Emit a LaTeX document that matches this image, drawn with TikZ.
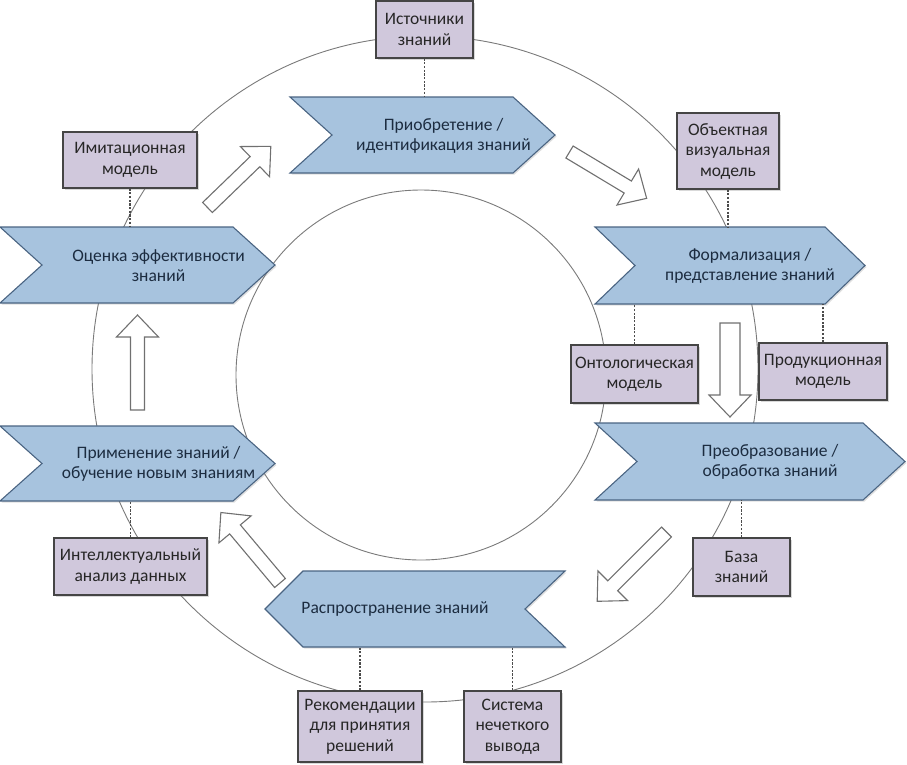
\documentclass[tikz,border=0pt]{standalone}
\usepackage{fontspec}
\setmainfont{Carlito}
\usetikzlibrary{shadows}
\definecolor{chevfill}{HTML}{A7C3DE}
\definecolor{chevdraw}{HTML}{4A6482}
\definecolor{chevtext}{HTML}{1C2C40}
\definecolor{boxfill}{HTML}{D0C8DC}
\definecolor{boxdraw}{HTML}{454545}
\definecolor{boxtext}{HTML}{262626}
\definecolor{ringcol}{HTML}{7A7A7A}
\definecolor{arrcol}{HTML}{707070}
\tikzset{
  chev/.style={fill=chevfill, draw=chevdraw, line width=1.1pt, line join=miter,
    drop shadow={shadow xshift=1.5pt, shadow yshift=-1.5pt, opacity=0.25, fill=gray}},
  chevlabel/.style={align=center, text=chevtext, font=\fontsize{17.5}{20}\selectfont, inner sep=0pt},
  infobox/.style={rectangle, fill=boxfill, draw=boxdraw, line width=1.1pt, align=center,
    text=boxtext, font=\fontsize{17.5}{20.5}\selectfont, inner sep=0pt,
    drop shadow={shadow xshift=2pt, shadow yshift=-2pt, opacity=0.3, fill=gray}},
  ring/.style={draw=ringcol, line width=0.9pt},
  arrowbox/.style={fill=white, draw=arrcol, line width=1.1pt, line join=miter},
  dotline/.style={draw=black!70, line width=1.9pt, dash pattern=on 2.2pt off 1.5pt}
}
% block arrow: tail x, tail y, angle, length, half shaft width
\newcommand{\blkarrow}[5]{%
  \draw[arrowbox, shift={(#1,#2)}, rotate=#3]
    (0,-#5) -- ({#4-22},-#5) -- ({#4-22},-21) -- (#4,0) -- ({#4-22},21) -- ({#4-22},#5) -- (0,#5) -- cycle;}
% right-pointing chevron: left, top, right, bottom, depth
\newcommand{\chevright}[5]{%
  \draw[chev] (#1,#2) -- ({#3-#5},#2) -- (#3,{(#2+#4)/2}) -- ({#3-#5},#4) -- (#1,#4) -- ({#1+#5},{(#2+#4)/2}) -- cycle;}
\begin{document}
\begin{tikzpicture}[x=1pt, y=-1pt]
\useasboundingbox (0,0) rectangle (907,764);
% rings
\draw[ring] (425,369) circle[radius=333];
\draw[ring] (421,375) circle[radius=185];
% arrows
\blkarrow{207.5}{207.5}{44}{88}{7}
\blkarrow{569.5}{152}{-31}{90}{7}
\blkarrow{730}{323}{-90}{94}{10}
\blkarrow{666.5}{532}{-135}{98}{7}
\blkarrow{280}{583}{130}{92}{7}
\blkarrow{137.5}{410}{90}{95}{7}
% chevrons
\chevright{290}{97}{555}{173}{42}
\chevright{595}{227}{865}{304}{40}
\chevright{595}{423}{905}{500}{42}
\chevright{0}{426}{275}{501}{42}
\chevright{0}{227}{275}{303}{42}
\draw[chev] (303,571) -- (565,571) -- (525,609) -- (565,647) -- (303,647) -- (265,609) -- cycle;
% chevron labels
\node[chevlabel] (acq) at (443.5,136) {Приобретение /\\идентификация знаний};
\node[chevlabel] (form) at (750,266) {Формализация /\\представление знаний};
\node[chevlabel] (proc) at (770,462) {Преобразование /\\обработка знаний};
\node[chevlabel] (dist) at (395,609) {Распространение знаний};
\node[chevlabel] (appl) at (158.5,464) {Применение знаний /\\обучение новым знаниям};
\node[chevlabel] (eval) at (158.5,266) {Оценка эффективности\\знаний};
% boxes
\node[infobox, minimum width=97, minimum height=57] (src) at (424.5,29.5) {Источники\\знаний};
\node[infobox, minimum width=102, minimum height=76] (obj) at (728,151) {Объектная\\визуальная\\модель};
\node[infobox, minimum width=134, minimum height=56] (imit) at (130,160) {Имитационная\\модель};
\node[infobox, minimum width=127, minimum height=58] (onto) at (634.5,374) {Онтологическая\\модель};
\node[infobox, minimum width=128, minimum height=57] (prod) at (823,371.5) {Продукционная\\модель};
\node[infobox, minimum width=97, minimum height=58] (baza) at (741.5,567) {База\\знаний};
\node[infobox, minimum width=124, minimum height=71] (rek) at (360,726.5) {Рекомендации\\для принятия\\решений};
\node[infobox, minimum width=97, minimum height=71] (sys) at (512.5,726.5) {Система\\нечеткого\\вывода};
\node[infobox, minimum width=153, minimum height=57] (intel) at (130.5,566.5) {Интеллектуальный\\анализ данных};
% connection points on chevrons
\coordinate (pSrc) at (424.5,97);
\coordinate (pObj) at (728,227);
\coordinate (pImit) at (130,227);
\coordinate (pOnto) at (634.5,304);
\coordinate (pProd) at (823,304);
\coordinate (pBaza) at (741.5,500);
\coordinate (pRek) at (360,647);
\coordinate (pSys) at (512.5,647);
\coordinate (pIntel) at (130.5,501);
% dotted connectors
\draw[dotline] (src.south) -- (pSrc);
\draw[dotline] (obj.south) -- (pObj);
\draw[dotline] (imit.south) -- (pImit);
\draw[dotline] (onto.north) -- (pOnto);
\draw[dotline] (prod.north) -- (pProd);
\draw[dotline] (baza.north) -- (pBaza);
\draw[dotline] (rek.north) -- (pRek);
\draw[dotline] (sys.north) -- (pSys);
\draw[dotline] (intel.north) -- (pIntel);
\end{tikzpicture}
\end{document}
